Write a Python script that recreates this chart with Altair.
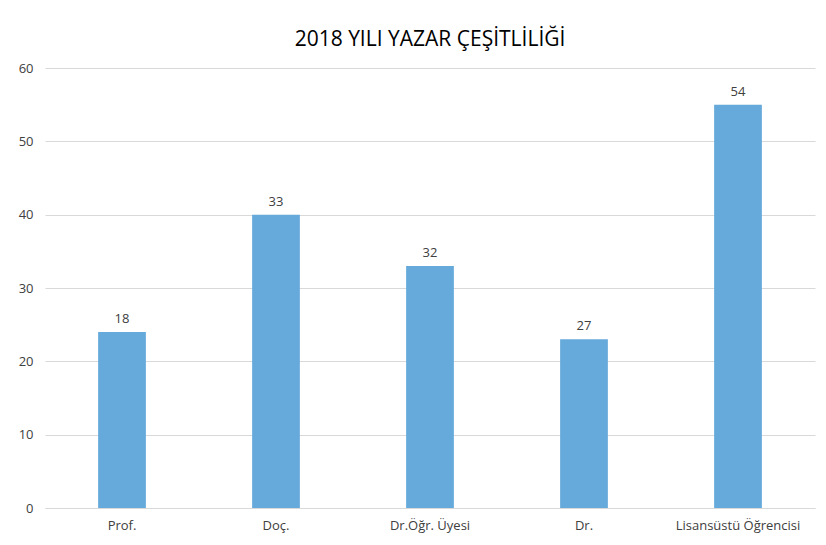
import altair as alt
import pandas as pd

categories = ["Prof.", "Doç.", "Dr.Öğr. Üyesi", "Dr.", "Lisansüstü Öğrencisi"]
bar_values = [24, 40, 33, 23, 55]
label_values = ["18", "33", "32", "27", "54"]

df = pd.DataFrame({"cat": categories, "val": bar_values, "lab": label_values})

FONT = "Open Sans"

x = alt.X("cat:N", sort=categories, title=None,
          scale=alt.Scale(paddingInner=0.69, paddingOuter=0.345),
          axis=alt.Axis(labelAngle=0, labelFontSize=13, labelColor="#404040",
                        labelFont=FONT, labelPadding=11, ticks=False,
                        domainColor="#d9d9d9", domainWidth=1))
y = alt.Y("val:Q", title=None,
          scale=alt.Scale(domain=[0, 60]),
          axis=alt.Axis(values=[0, 10, 20, 30, 40, 50, 60], labelFontSize=13,
                        labelColor="#404040", labelFont=FONT, labelPadding=12,
                        ticks=False, domain=False, gridColor="#d9d9d9"))

bars = alt.Chart(df).mark_bar(color="#66a9db").encode(x=x, y=y)
texts = alt.Chart(df).mark_text(dy=-13, fontSize=13, color="#404040", font=FONT).encode(
    x=alt.X("cat:N", sort=categories), y="val:Q", text="lab:N")

chart = (bars + texts).properties(
    width=770, height=440,
    autosize=alt.AutoSizeParams(type="none"),
    padding={"left": 37, "top": 60, "right": 3, "bottom": 30},
    title=alt.TitleParams("2018 YILI YAZAR ÇEŞİTLİLİĞİ", fontSize=21, font=FONT,
                          fontWeight="normal", color="#000000", anchor="middle",
                          offset=12),
).configure_view(stroke=None)

chart.save("out.html", embed_options={"renderer": "svg", "actions": False})
